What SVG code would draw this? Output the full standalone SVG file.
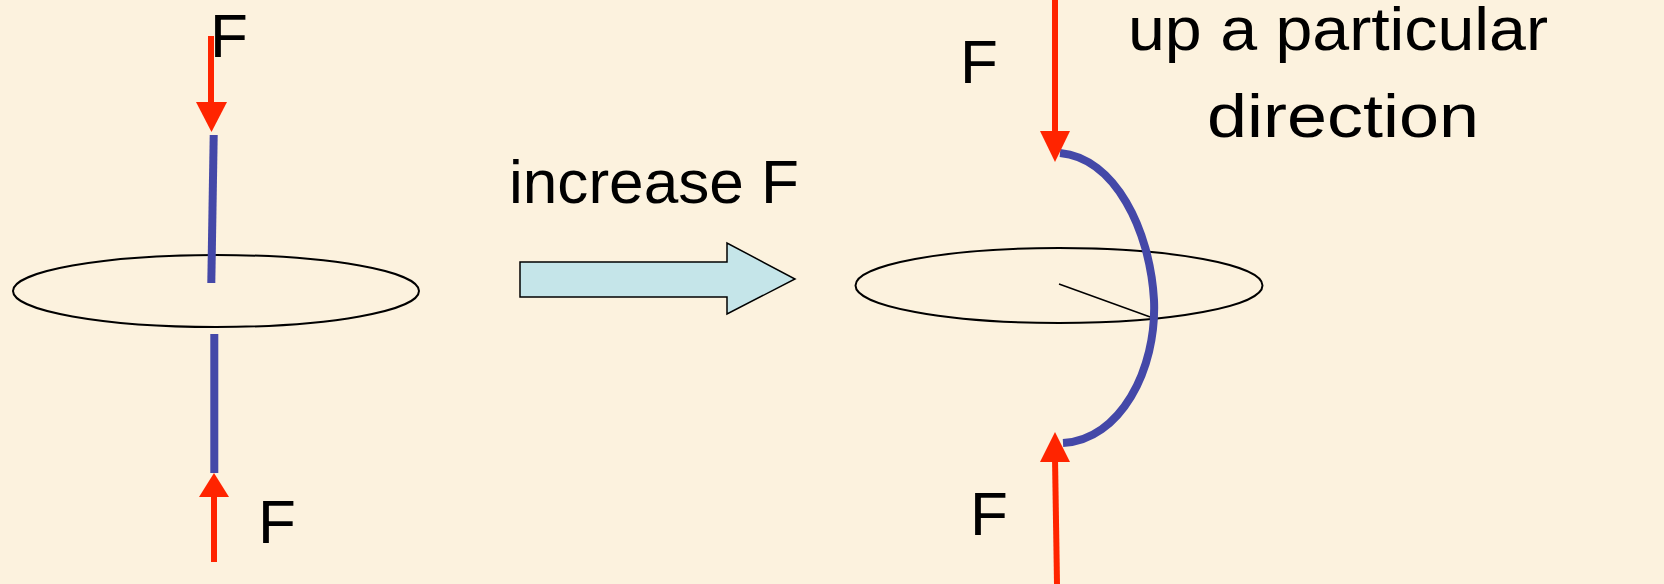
<svg xmlns="http://www.w3.org/2000/svg" width="1664" height="584" viewBox="0 0 1664 584">
<style>
.t{font-family:"Liberation Sans",Arial,sans-serif;font-size:62px;fill:#000}
.force{stroke:#ff2400;stroke-width:6;fill:none}
.head{fill:#ff2400}
.rod{stroke:#4448a8;stroke-width:8;fill:none}
.disk{fill:none;stroke:#000;stroke-width:2}
</style>
<rect width="1664" height="584" fill="#fcf2de"/>
<g id="left-disk">
<ellipse class="disk" cx="216" cy="291" rx="203" ry="36"/>
<line class="rod" x1="213.7" y1="135" x2="211.3" y2="283"/>
<line class="rod" x1="214.3" y1="334" x2="214.3" y2="473"/>
</g>
<g id="left-forces">
<line class="force" x1="211" y1="36" x2="211" y2="106"/>
<polygon class="head" points="196,102 227,102 211.5,132"/>
<line class="force" x1="214" y1="493" x2="214" y2="562"/>
<polygon class="head" points="199,497 229,497 214,473"/>
<text class="t" x="210" y="57">F</text>
<text class="t" x="258" y="543">F</text>
</g>
<g id="transition">
<text class="t" x="509" y="203" textLength="290" lengthAdjust="spacingAndGlyphs">increase F</text>
<polygon points="520,262 727,262 727,243 795,279 727,314 727,297 520,297" fill="#c5e5e9" stroke="#000" stroke-width="1.5"/>
</g>
<g id="right-disk">
<ellipse class="disk" cx="1059" cy="285.5" rx="203.5" ry="37.5"/>
<line x1="1059" y1="284" x2="1153" y2="318" stroke="#000" stroke-width="1.5"/>
<path class="rod" d="M1060,153 C1115,158 1150,230 1154,300 C1157,370 1120,440 1063,443"/>
</g>
<g id="right-forces">
<line class="force" x1="1055" y1="0" x2="1055" y2="135"/>
<polygon class="head" points="1040,131 1070,131 1055,162"/>
<line class="force" x1="1055" y1="458" x2="1057" y2="584"/>
<polygon class="head" points="1040,462 1070,462 1055,432"/>
<text class="t" x="960" y="83">F</text>
<text class="t" x="970" y="535">F</text>
</g>
<g id="caption">
<text class="t" x="1128" y="50" textLength="420" lengthAdjust="spacingAndGlyphs">up a particular</text>
<text class="t" x="1207" y="137" textLength="272" lengthAdjust="spacingAndGlyphs">direction</text>
</g>
</svg>
